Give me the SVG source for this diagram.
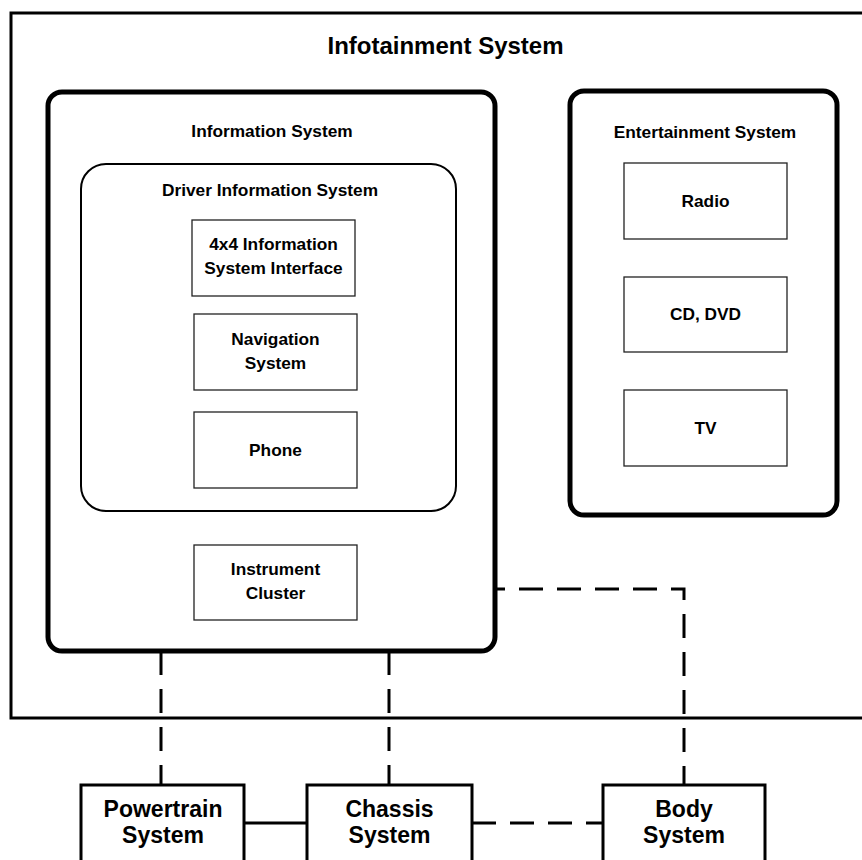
<svg xmlns="http://www.w3.org/2000/svg" width="862" height="860" viewBox="0 0 862 860">
<style>
text{font-family:"Liberation Sans",Arial,sans-serif;font-weight:bold;fill:#000;text-anchor:middle}
.t17{font-size:17.3px}
.t23{font-size:23px}
.title{font-size:24px}
.thick{fill:#fff;stroke:#000;stroke-width:5}
.drv{fill:#fff;stroke:#000;stroke-width:2}
.box{fill:#fff;stroke:#222;stroke-width:1.3}
.sys{fill:#fff;stroke:#000;stroke-width:3}
.dash{fill:none;stroke:#000;stroke-width:3;stroke-dasharray:24 14}
.solid{fill:none;stroke:#000;stroke-width:3}
</style>
<g id="infotainment">
<rect x="11" y="13" width="880" height="705" fill="#fff" stroke="#000" stroke-width="3"/>
<text class="title" x="445.5" y="54">Infotainment System</text>
</g>
<g id="information-system">
<rect class="thick" x="48" y="92" width="447" height="559" rx="14"/>
<text class="t17" x="272" y="137">Information System</text>
</g>
<g id="driver-information-system">
<rect class="drv" x="81" y="164" width="375" height="347" rx="25"/>
<text class="t17" x="270" y="196">Driver Information System</text>
</g>
<g id="info-4x4">
<rect class="box" x="192" y="220" width="163" height="76"/>
<text class="t17" x="273.5" y="250">4x4 Information</text>
<text class="t17" x="273.5" y="274">System Interface</text>
</g>
<g id="navigation">
<rect class="box" x="194" y="314" width="163" height="76"/>
<text class="t17" x="275.5" y="345">Navigation</text>
<text class="t17" x="275.5" y="369">System</text>
</g>
<g id="phone">
<rect class="box" x="194" y="412" width="163" height="76"/>
<text class="t17" x="275.5" y="456">Phone</text>
</g>
<g id="instrument-cluster">
<rect class="box" x="194" y="545" width="163" height="75"/>
<text class="t17" x="275.5" y="575">Instrument</text>
<text class="t17" x="275.5" y="599">Cluster</text>
</g>
<g id="entertainment-system">
<rect class="thick" x="570" y="91" width="267" height="424" rx="14"/>
<text class="t17" x="705" y="138">Entertainment System</text>
</g>
<g id="radio">
<rect class="box" x="624" y="163" width="163" height="76"/>
<text class="t17" x="705.5" y="207">Radio</text>
</g>
<g id="cd-dvd">
<rect class="box" x="624" y="277" width="163" height="75"/>
<text class="t17" x="705.5" y="320">CD, DVD</text>
</g>
<g id="tv">
<rect class="box" x="624" y="390" width="163" height="76"/>
<text class="t17" x="705.5" y="434">TV</text>
</g>
<g id="connectors">
<path class="dash" d="M161,651 V785"/>
<path class="dash" d="M389,651 V785"/>
<path class="dash" style="stroke-dashoffset:14" d="M495,589 H684 V785"/>
<path class="solid" d="M244,823 H307"/>
<path class="dash" d="M472,823 H603"/>
</g>
<g id="powertrain">
<rect class="sys" x="81" y="785" width="163" height="90"/>
<text class="t23" x="163" y="817">Powertrain</text>
<text class="t23" x="163" y="843">System</text>
</g>
<g id="chassis">
<rect class="sys" x="307" y="785" width="165" height="90"/>
<text class="t23" x="389.5" y="817">Chassis</text>
<text class="t23" x="389.5" y="843">System</text>
</g>
<g id="body">
<rect class="sys" x="603" y="785" width="162" height="90"/>
<text class="t23" x="684" y="817">Body</text>
<text class="t23" x="684" y="843">System</text>
</g>
</svg>
